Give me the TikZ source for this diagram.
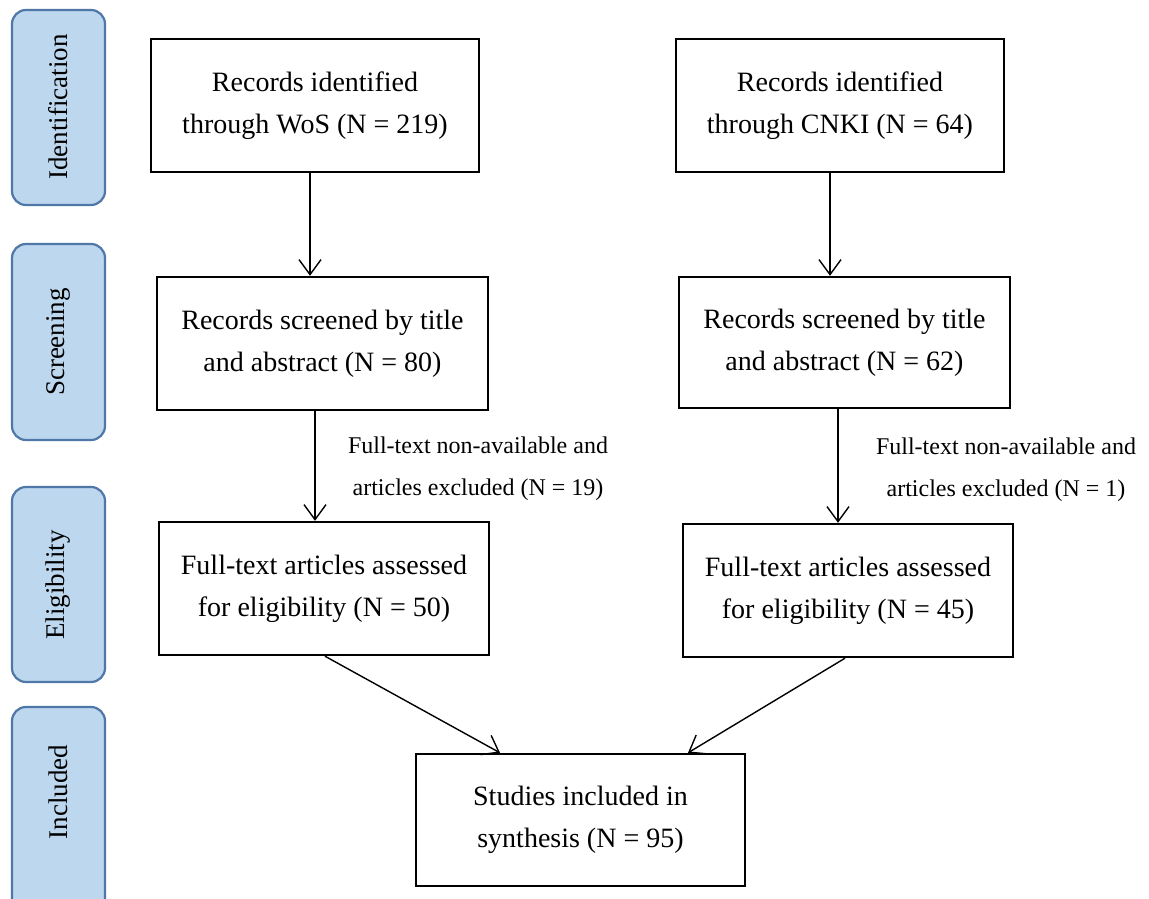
\documentclass[tikz,border=0pt]{standalone}
\usepackage{fontspec}
\setmainfont{Liberation Serif}
\usetikzlibrary{arrows.meta}
\tikzset{
  phase/.style={draw=phaseedge, fill=phasefill, line width=2.2pt, rounded corners=14pt},
  phasetext/.style={rotate=90, font=\fontsize{27}{30}\selectfont},
  record/.style={draw=black, line width=2.4pt, align=center, font=\fontsize{28}{42}\selectfont},
  note/.style={align=center, font=\fontsize{24}{42}\selectfont},
  flow/.style={line width=1.4pt, -{Straight Barb[length=15pt,width=22pt,line width=1.4pt]}}
}
\definecolor{phasefill}{HTML}{BDD7EE}
\definecolor{phaseedge}{HTML}{4F77A8}
\begin{document}
\begin{tikzpicture}[x=1pt,y=-1pt]
\useasboundingbox (0,0) rectangle (1149,899);
\fill[white] (0,0) rectangle (1149,899);

% phase bands on the left
\draw[phase] (12,10) rectangle (105,205);
\node[phasetext] (idl) at (58,107) {Identification};
\draw[phase] (12,244) rectangle (105,440);
\node[phasetext] (scl) at (58,342) {Screening};
\draw[phase] (12,487) rectangle (105,682);
\node[phasetext] (ell) at (58,585) {Eligibility};
\draw[phase] (12,707) rectangle (105,920);
\node[phasetext] (inl) at (58,792) {Included};

% record boxes
\node[record, minimum width=328pt, minimum height=133pt] (wos) at (315,105.5) {Records identified\\through WoS (N = 219)};
\node[record, minimum width=328pt, minimum height=133pt] (cnki) at (840,105.5) {Records identified\\through CNKI (N = 64)};
\node[record, minimum width=331pt, minimum height=133pt] (scrL) at (322.5,343.5) {Records screened by title\\and abstract (N = 80)};
\node[record, minimum width=331pt, minimum height=131pt] (scrR) at (844.5,342.5) {Records screened by title\\and abstract (N = 62)};
\node[record, minimum width=330pt, minimum height=133pt] (eliL) at (324,588.5) {Full-text articles assessed\\for eligibility (N = 50)};
\node[record, minimum width=330pt, minimum height=133pt] (eliR) at (848,590.5) {Full-text articles assessed\\for eligibility (N = 45)};
\node[record, minimum width=329pt, minimum height=132pt] (inc) at (580.5,820) {Studies included in\\synthesis (N = 95)};

% exclusion notes
\node[note] (exL) at (478,469) {Full-text non-available and\\articles excluded (N = 19)};
\node[note] (exR) at (1006,470) {Full-text non-available and\\articles excluded (N = 1)};

% connectors
\draw[flow] (wos.south -| 310,0) -- (scrL.north -| 310,0);
\draw[flow] (cnki.south -| 830,0) -- (scrR.north -| 830,0);
\draw[flow] (scrL.south -| 315,0) -- (eliL.north -| 315,0);
\draw[flow] (scrR.south -| 838,0) -- (eliR.north -| 838,0);
\draw[flow] (eliL.south -| 325,0) -- (inc.north -| 500,0);
\draw[flow] (eliR.south -| 845,0) -- (inc.north -| 688,0);
\end{tikzpicture}
\end{document}
